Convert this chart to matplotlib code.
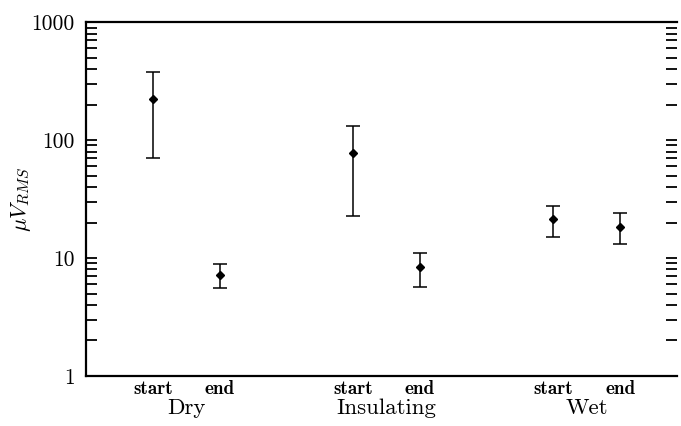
import matplotlib
matplotlib.use("Agg")
import matplotlib.pyplot as plt
from matplotlib.ticker import FixedLocator, FixedFormatter, LogLocator, NullFormatter
from matplotlib.transforms import blended_transform_factory

plt.rcParams["font.family"] = "cmr10"
plt.rcParams["mathtext.fontset"] = "cm"
plt.rcParams["axes.formatter.use_mathtext"] = True

groups = ["Dry", "Insulating", "Wet"]
phases = ["start", "end"]
positions = [1, 2, 4, 5, 7, 8]
mean_uv = [222, 7.2, 77.6, 8.4, 21.4, 18.3]
upper_uv = [377, 8.9, 131, 11.0, 27.6, 24.1]
lower_uv = [70, 5.6, 22.7, 5.7, 15.1, 13.1]
yticks = [1, 10, 100, 1000]

err_lo = [m - lo for m, lo in zip(mean_uv, lower_uv)]
err_hi = [hi - m for m, hi in zip(mean_uv, upper_uv)]

fig = plt.figure(figsize=(6.81, 4.26), dpi=100)
ax = fig.add_axes([0.1263, 0.1174, 0.8677, 0.8306])

ax.errorbar(positions, mean_uv, yerr=[err_lo, err_hi], fmt="D", color="black",
            markersize=4.5, elinewidth=1.1, capsize=5, capthick=1.1)

ax.set_yscale("log")
ax.set_ylim(1, 1000)
ax.set_xlim(0.0, 8.85)

ax.yaxis.set_major_locator(FixedLocator(yticks))
ax.yaxis.set_major_formatter(FixedFormatter([str(t) for t in yticks]))
ax.yaxis.set_minor_locator(LogLocator(base=10, subs=range(2, 10)))
ax.yaxis.set_minor_formatter(NullFormatter())
ax.tick_params(axis="y", which="both", direction="in", length=8, width=1.3,
               left=True, right=True, labelsize=15.5, pad=8)

ax.set_xticks(positions)
ax.set_xticklabels(phases * len(groups), fontfamily="cmb10", fontsize=13.8)
ax.tick_params(axis="x", length=0, pad=3)

tr = blended_transform_factory(ax.transData, ax.transAxes)
for i, g in enumerate(groups):
    ax.text((positions[2 * i] + positions[2 * i + 1]) / 2, -0.064, g,
            transform=tr, ha="center", va="top", fontsize=16.5)

ax.set_ylabel(r"$\mu V_{RMS}$", fontsize=16)
ax.yaxis.set_label_coords(-0.09, 0.5)

for side in ["left", "bottom", "top"]:
    ax.spines[side].set_linewidth(1.6)
ax.spines["right"].set_visible(False)

fig.savefig("out.png", dpi=100)
